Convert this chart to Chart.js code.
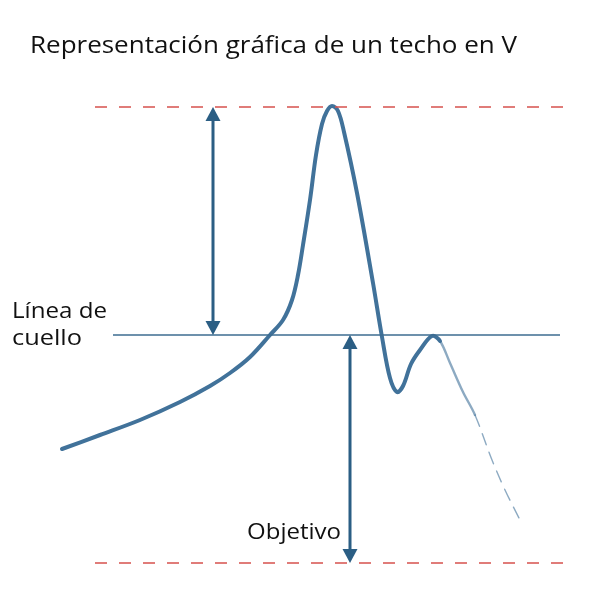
<!DOCTYPE html>
<html lang="es">
<head>
    <meta charset="UTF-8">
    <title>Techo en V</title>
    <script src="https://cdn.jsdelivr.net/npm/chart.js"></script>
    <style>
        body { margin: 0; background: #fff; }
        #wrap { width: 600px; height: 600px; }
    </style>
</head>
<body>
    <div id="wrap"><canvas id="chart" width="600" height="600"></canvas></div>
    <script>
        // price path (x = time, y = price)
        const priceX = [62, 100, 140, 180, 210, 230, 250, 270, 283, 292, 298, 303, 310, 316, 322, 327, 332, 338, 344, 357, 373, 382, 390, 397, 403, 411, 420, 432, 440, 450, 463, 475, 492, 505, 520];
        const priceY = [151, 165, 180, 198, 214, 227, 243, 265, 280, 300, 325, 355, 400, 445, 476, 489, 494, 489, 468, 407, 317, 263, 222, 208, 214, 236, 250, 264, 259, 237, 208, 185, 140, 110, 80];

        const topLevel = 493;      // peak
        const neckLevel = 265;     // neckline
        const targetLevel = 37;    // objective
        const levelFrom = 95, levelTo = 565;
        const neckFrom = 113, neckTo = 560;
        const heightArrowX = 213;
        const targetArrowX = 350;

        const fadeFrom = 440;      // tail of the sketch gets faint

        const curve = priceX.map((x, i) => ({ x: x, y: priceY[i] }));

        const labels = [
            { text: 'Línea de', x: 12, y: 282, w: 95 },
            { text: 'cuello', x: 12, y: 255, w: 70 },
            { text: 'Objetivo', x: 247, y: 61, w: 94 }
        ];

        const headLen = 14, headHalf = 7.5;

        // draw text stretched to the width it has in the picture
        function fitText(ctx, text, x, y, w) {
            const m = ctx.measureText(text).width;
            ctx.save();
            ctx.translate(x, y);
            ctx.scale(w / m, 1);
            ctx.fillText(text, 0, 0);
            ctx.restore();
        }

        const drawExtras = {
            id: 'extras',
            afterDatasetsDraw(chart) {
                const ctx = chart.ctx;
                const xs = chart.scales.x, ys = chart.scales.y;

                // arrow heads
                ctx.save();
                ctx.fillStyle = '#2b5e84';
                const head = (x, y, dir) => {
                    const px = xs.getPixelForValue(x), py = ys.getPixelForValue(y);
                    ctx.beginPath();
                    ctx.moveTo(px, py);
                    ctx.lineTo(px - headHalf, py + dir * headLen);
                    ctx.lineTo(px + headHalf, py + dir * headLen);
                    ctx.closePath();
                    ctx.fill();
                };
                head(heightArrowX, topLevel, 1);
                head(heightArrowX, neckLevel, -1);
                head(targetArrowX, neckLevel, 1);
                head(targetArrowX, targetLevel, -1);
                ctx.restore();

                // labels and title
                ctx.save();
                ctx.fillStyle = '#111';
                ctx.textBaseline = 'alphabetic';
                ctx.font = '21px "Open Sans", sans-serif';
                labels.forEach(l => {
                    fitText(ctx, l.text, xs.getPixelForValue(l.x), ys.getPixelForValue(l.y), l.w);
                });
                ctx.font = '23px "Open Sans", sans-serif';
                fitText(ctx, 'Representación gráfica de un techo en V', 30, 53, 487);
                ctx.restore();
            }
        };

        new Chart(document.getElementById('chart'), {
            type: 'line',
            data: {
                datasets: [
                    {
                        data: [{ x: levelFrom, y: topLevel }, { x: levelTo, y: topLevel }],
                        borderColor: '#d6524e', borderWidth: 1.4, borderDash: [12, 12], pointRadius: 0
                    },
                    {
                        data: [{ x: levelFrom, y: targetLevel }, { x: levelTo, y: targetLevel }],
                        borderColor: '#d6524e', borderWidth: 1.4, borderDash: [12, 12], pointRadius: 0
                    },
                    {
                        data: [{ x: neckFrom, y: neckLevel }, { x: neckTo, y: neckLevel }],
                        borderColor: '#3d6d90', borderWidth: 1.6, pointRadius: 0
                    },
                    {
                        data: [{ x: heightArrowX, y: topLevel - headLen }, { x: heightArrowX, y: neckLevel + headLen }],
                        borderColor: '#2b5e84', borderWidth: 3, pointRadius: 0
                    },
                    {
                        data: [{ x: targetArrowX, y: neckLevel - headLen }, { x: targetArrowX, y: targetLevel + headLen }],
                        borderColor: '#2b5e84', borderWidth: 3, pointRadius: 0
                    },
                    {
                        data: curve,
                        borderColor: '#41729a',
                        borderWidth: 4,
                        borderCapStyle: 'round',
                        borderJoinStyle: 'round',
                        pointRadius: 0,
                        tension: 0.35,
                        segment: {
                            borderColor: c => c.p0.parsed.x >= fadeFrom ? 'rgba(65,114,154,0.6)' : undefined,
                            borderWidth: c => c.p0.parsed.x >= fadeFrom ? (c.p0.parsed.x >= 470 ? 1.4 : 2.4) : undefined,
                            borderDash: c => c.p0.parsed.x >= 470 ? [12, 8] : undefined
                        }
                    }
                ]
            },
            options: {
                responsive: false,
                animation: false,
                layout: { padding: 0 },
                plugins: { legend: { display: false }, tooltip: { enabled: false } },
                scales: {
                    x: { type: 'linear', min: 0, max: 600, display: false },
                    y: { min: 0, max: 600, display: false }
                }
            },
            plugins: [drawExtras]
        });
    </script>
</body>
</html>
